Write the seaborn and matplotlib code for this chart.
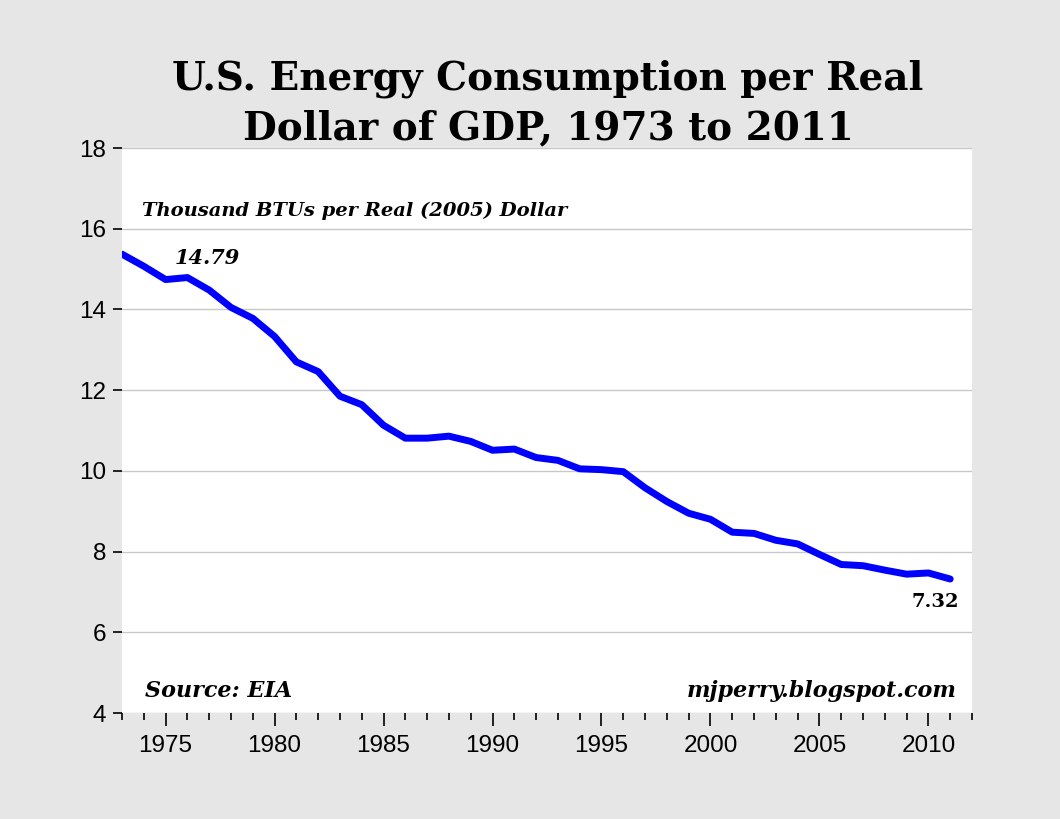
import matplotlib
matplotlib.use("Agg")
import matplotlib.pyplot as plt
import seaborn as sns
import pandas as pd
from matplotlib.ticker import MultipleLocator

years = list(range(1973, 2012))
btu_per_dollar = [15.37, 15.07, 14.74, 14.79, 14.48, 14.05, 13.78, 13.33, 12.70, 12.46,
                  11.85, 11.64, 11.13, 10.81, 10.81, 10.86, 10.73, 10.51, 10.54, 10.33,
                  10.26, 10.05, 10.03, 9.98, 9.58, 9.24, 8.95, 8.80, 8.48, 8.45,
                  8.28, 8.19, 7.93, 7.68, 7.65, 7.54, 7.44, 7.47, 7.32]
title_line1 = "U.S. Energy Consumption per Real"
title_line2 = "Dollar of GDP, 1973 to 2011"
units_label = "Thousand BTUs per Real (2005) Dollar"
first_label = "14.79"
last_label = "7.32"
source_label = "Source: EIA"
site_label = "mjperry.blogspot.com"

df = pd.DataFrame({"year": years, "value": btu_per_dollar})

sns.set_theme(style="white")
plt.rcParams['font.family'] = ['Liberation Sans', 'DejaVu Sans']

W, H = 1060, 819
fig = plt.figure(figsize=(W / 100, H / 100), dpi=100, facecolor="#e6e6e6")
ax = fig.add_axes([122 / W, 1 - 713 / H, 850 / W, 565 / H])
ax.set_facecolor("white")

sns.lineplot(data=df, x="year", y="value", ax=ax, color="#0000ff", linewidth=5)

ax.set_xlim(1973, 2012)
ax.set_ylim(4, 18)
ax.xaxis.set_minor_locator(MultipleLocator(1))
ax.set_xticks(range(1975, 2011, 5))
ax.yaxis.set_major_locator(MultipleLocator(2))
ax.set_xlabel("")
ax.set_ylabel("")
for s in ax.spines.values():
    s.set_visible(False)
ax.grid(axis="y", color="#c8c8c8", linewidth=1)
ax.set_axisbelow(True)
ax.tick_params(axis="x", which="major", direction="out", length=9, width=1.2,
               color="black", labelcolor="black", labelsize=17.5, pad=6.5, bottom=True)
ax.tick_params(axis="x", which="minor", direction="out", length=5, width=1.2,
               color="black", bottom=True)
ax.tick_params(axis="y", which="major", direction="out", length=6.5, width=1.2,
               color="black", labelcolor="black", labelsize=17.5, pad=5, left=True)

serif = ['DejaVu Serif']
fig.text(548 / W, 1 - 89 / H, title_line1, ha="center", va="baseline", fontsize=28,
         fontweight="bold", family=serif, color="black")
fig.text(548 / W, 1 - 139 / H, title_line2, ha="center", va="baseline", fontsize=28,
         fontweight="bold", family=serif, color="black")

def px_to_axes(x, y):
    return (x - 122) / 850, (713 - y) / 565

ax.text(*px_to_axes(142, 216), units_label, transform=ax.transAxes, ha="left", va="baseline",
        fontsize=14, fontweight="bold", style="italic", family=serif, color="black")
ax.text(*px_to_axes(175, 258), first_label, transform=ax.transAxes, ha="left", va="center",
        fontsize=15, fontweight="bold", style="italic", family=serif, color="black")
ax.text(*px_to_axes(935, 602), last_label, transform=ax.transAxes, ha="center", va="center",
        fontsize=14, fontweight="bold", family=serif, color="black")
ax.text(*px_to_axes(145, 697), source_label, transform=ax.transAxes, ha="left", va="baseline",
        fontsize=16, fontweight="bold", style="italic", family=serif, color="black")
ax.text(*px_to_axes(957, 697), site_label, transform=ax.transAxes, ha="right", va="baseline",
        fontsize=16, fontweight="bold", style="italic", family=serif, color="black")

fig.savefig("out.png", dpi=100, facecolor=fig.get_facecolor())
